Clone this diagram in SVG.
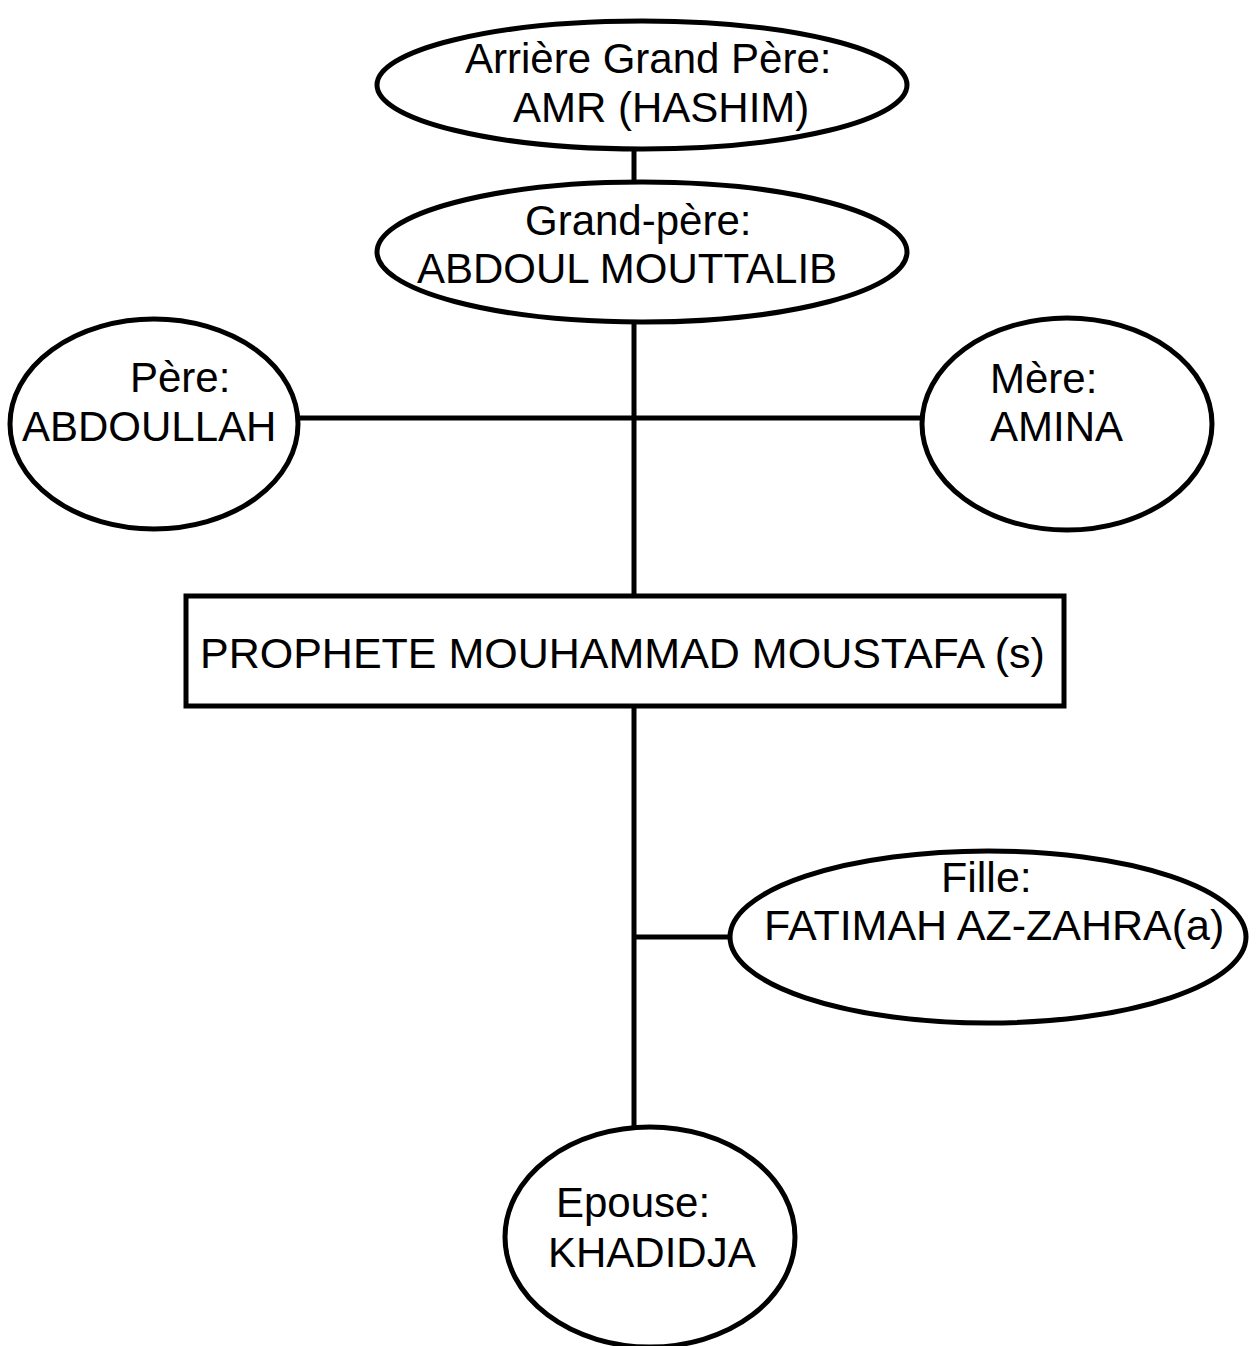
<svg xmlns="http://www.w3.org/2000/svg" width="1258" height="1346" viewBox="0 0 1258 1346">
<style>
.n{fill:#fff;stroke:#000;stroke-width:5}
.t{font-family:"Liberation Sans",Arial,sans-serif;font-size:42px;fill:#000}
.b{font-size:43px}
.c{stroke:#000;stroke-width:5;fill:none}
</style>
<rect width="1258" height="1346" fill="#fff"/>
<g id="connectors">
<line class="c" x1="634" y1="148" x2="634" y2="184"/>
<line class="c" x1="634" y1="320" x2="634" y2="596"/>
<line class="c" x1="298" y1="418" x2="923" y2="418"/>
<line class="c" x1="634" y1="707" x2="634" y2="1134"/>
<line class="c" x1="634" y1="937" x2="731" y2="937"/>
</g>
<g id="arriere-grand-pere">
<ellipse class="n" cx="642" cy="85" rx="265" ry="64"/>
<text class="t" x="465" y="73">Arrière Grand Père:</text>
<text class="t" x="513" y="122">AMR (HASHIM)</text>
</g>
<g id="grand-pere">
<ellipse class="n" cx="642" cy="252" rx="265" ry="70"/>
<text class="t" x="525" y="235">Grand-père:</text>
<text class="t" x="417" y="283">ABDOUL MOUTTALIB</text>
</g>
<g id="pere">
<ellipse class="n" cx="154" cy="424" rx="144" ry="105"/>
<text class="t" x="130" y="392">Père:</text>
<text class="t" x="22" y="441">ABDOULLAH</text>
</g>
<g id="mere">
<ellipse class="n" cx="1067" cy="424" rx="145" ry="106"/>
<text class="t" x="990" y="393">Mère:</text>
<text class="t" x="990" y="441">AMINA</text>
</g>
<g id="prophete">
<rect class="n" x="186" y="596" width="878" height="110"/>
<text class="t b" x="200" y="668">PROPHETE MOUHAMMAD MOUSTAFA (s)</text>
</g>
<g id="fille">
<ellipse class="n" cx="988" cy="937" rx="258" ry="86"/>
<text class="t b" x="941" y="892">Fille:</text>
<text class="t b" x="764" y="940">FATIMAH AZ-ZAHRA(a)</text>
</g>
<g id="epouse">
<ellipse class="n" cx="650" cy="1237" rx="145" ry="110"/>
<text class="t" x="556" y="1217">Epouse:</text>
<text class="t" x="548" y="1267">KHADIDJA</text>
</g>
</svg>
